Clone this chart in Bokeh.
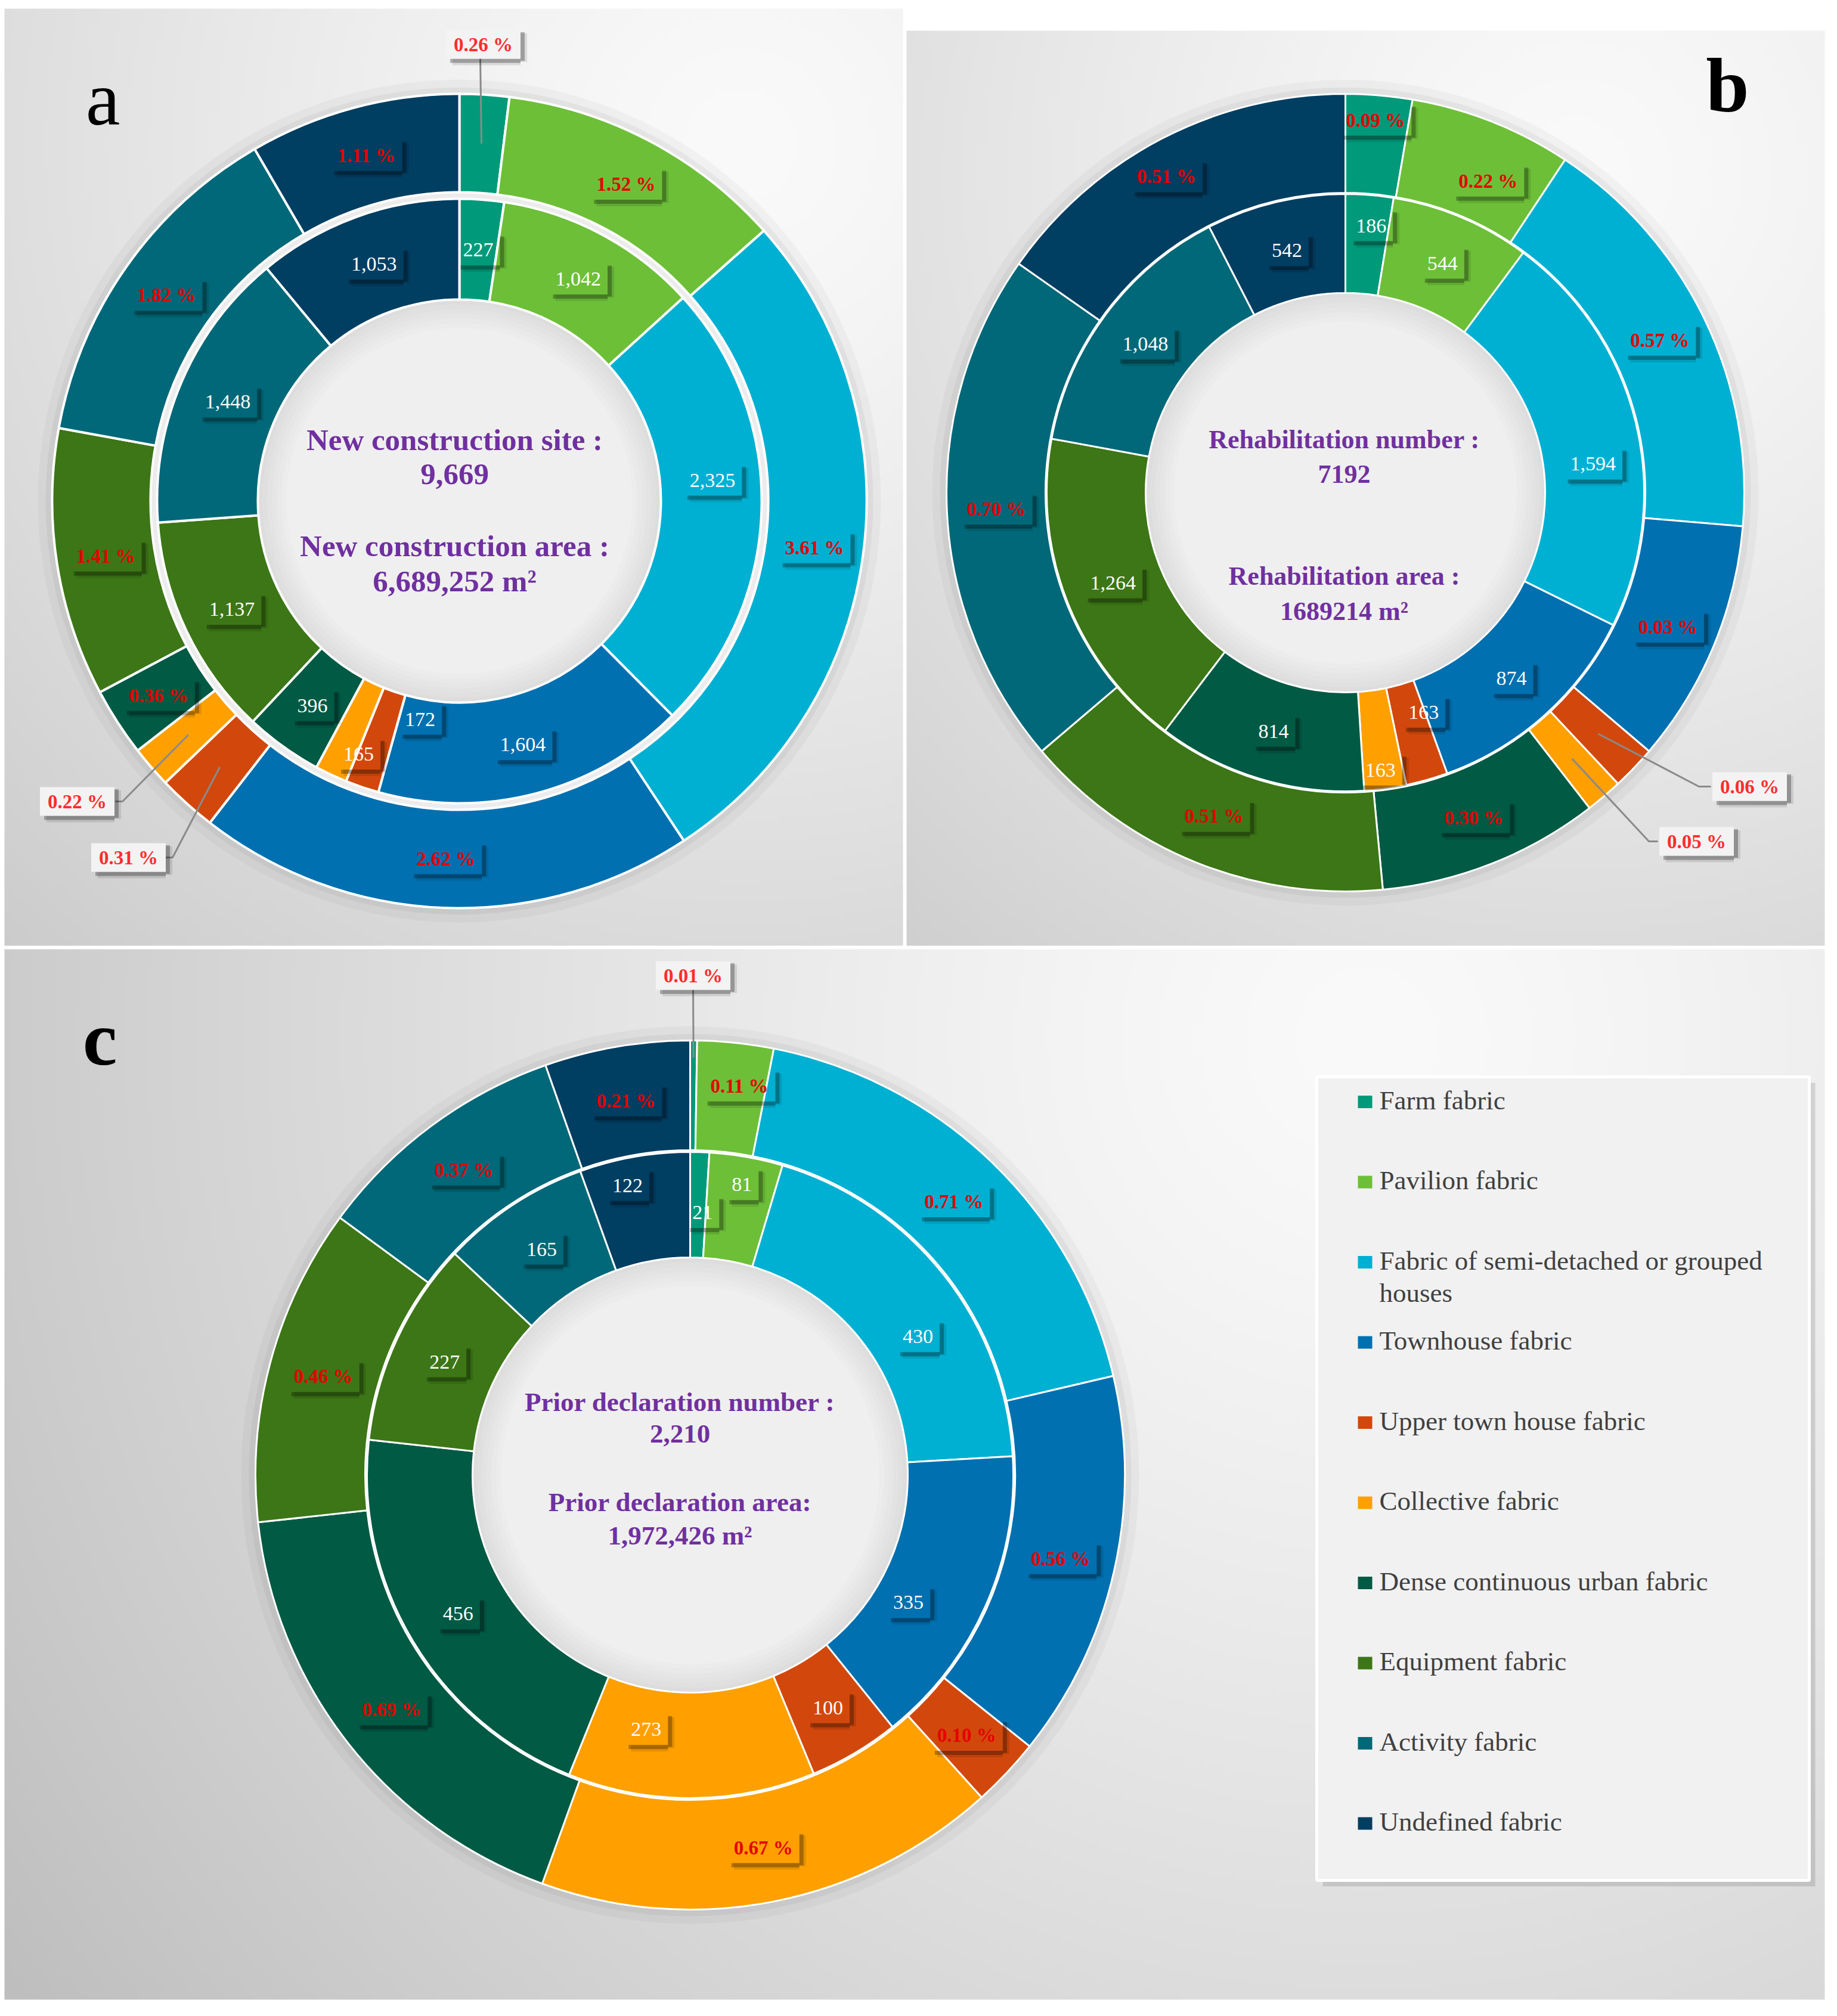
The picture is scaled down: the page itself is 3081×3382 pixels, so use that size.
import math
import numpy as np
from bokeh.plotting import figure
from bokeh.models import Range1d, ColumnDataSource
from bokeh.embed import file_html
from bokeh.resources import INLINE
from bokeh.core.properties import value

# ---------------- data ----------------
categories = ["Farm fabric", "Pavilion fabric", "Fabric of semi-detached or grouped houses",
              "Townhouse fabric", "Upper town house fabric", "Collective fabric",
              "Dense continuous urban fabric", "Equipment fabric", "Activity fabric",
              "Undefined fabric"]
colors = ["#009a7a", "#6dbf38", "#00b0d2", "#0070b0", "#d2480c",
          "#ffa000", "#005a44", "#3c7616", "#006878", "#003e62"]

new_construction_counts = [227, 1042, 2325, 1604, 172, 165, 396, 1137, 1448, 1053]
new_construction_area_pct = [0.26, 1.52, 3.61, 2.62, 0.31, 0.22, 0.36, 1.41, 1.82, 1.11]
new_construction_area_text = ["0.26 %", "1.52 %", "3.61 %", "2.62 %", "0.31 %",
                              "0.22 %", "0.36 %", "1.41 %", "1.82 %", "1.11 %"]

rehabilitation_counts = [186, 544, 1594, 874, 163, 163, 814, 1264, 1048, 542]
rehabilitation_area_pct = [0.09, 0.22, 0.57, 0.33, 0.06, 0.05, 0.30, 0.51, 0.70, 0.51]
rehabilitation_area_text = ["0.09 %", "0.22 %", "0.57 %", "0.03 %", "0.06 %",
                            "0.05 %", "0.30 %", "0.51 %", "0.70 %", "0.51 %"]

prior_declaration_counts = [21, 81, 430, 335, 100, 273, 456, 227, 165, 122]
prior_declaration_area_pct = [0.01, 0.11, 0.71, 0.56, 0.10, 0.67, 0.69, 0.46, 0.37, 0.21]
prior_declaration_area_text = ["0.01 %", "0.11 %", "0.71 %", "0.56 %", "0.10 %",
                               "0.67 %", "0.69 %", "0.46 %", "0.37 %", "0.21 %"]

center_text_a = ["New construction site :", "9,669", "New construction area :", "6,689,252 m\u00b2"]
center_text_b = ["Rehabilitation number :", "7192", "Rehabilitation area :", "1689214 m\u00b2"]
center_text_c = ["Prior declaration number :", "2,210", "Prior declaration area:", "1,972,426 m\u00b2"]
panel_letters = ["a", "b", "c"]

# ---------------- page geometry (image pixel coords) ----------------
W, H = 3064, 3364
FONT = value("Liberation Serif")


def X(xi):
    return xi - 8


def Y(yi):
    return H + 8 - yi


p = figure(width=W, height=H, x_range=Range1d(0, W), y_range=Range1d(0, H),
           output_backend="svg", toolbar_location=None, min_border=0)
p.axis.visible = False
p.grid.visible = False
p.outline_line_color = None
p.background_fill_color = "white"
p.border_fill_color = "white"


def panel_bg(x0, y0, x1, y1, lx, ly, norm, k):
    step = 8
    nx = int((x1 - x0) / step)
    ny = int((y1 - y0) / step)
    xs = x0 + (np.arange(nx) + 0.5) * (x1 - x0) / nx
    ys = y1 - (np.arange(ny) + 0.5) * (y1 - y0) / ny
    XX, YY = np.meshgrid(xs, ys)
    d = np.hypot(XX - lx, YY - ly) / norm
    v = np.clip(250 - k * d ** 1.3, 150, 252).astype(np.uint32)
    img = (np.uint32(255) << 24) | (v << 16) | (v << 8) | v
    p.image_rgba(image=[img], x=X(x0), y=Y(y1), dw=x1 - x0, dh=y1 - y0)


panel_bg(15, 22, 1522, 1594, 1250, 250, 1500, 36)
panel_bg(1528, 59, 3068, 1594, 2650, 300, 1500, 36)
panel_bg(15, 1600, 3068, 3362, 2300, 1750, 2200, 44)


def tw(s, F, bold=False):
    w = 0.0
    for ch in s:
        if ch.isdigit():
            w += 0.5
        elif ch in ",. ":
            w += 0.25
        elif ch == "%":
            w += 1.0 if bold else 0.833
        else:
            w += 0.5
    return w * F


def shadow_boxes(xs, ys, ws, hs, fills=None):
    """Drop shadow of a label box (right and bottom bands); optional box fill."""
    for d, alpha in [(11, 0.10), (7, 0.28)]:
        rx, ry, rw, rh = [], [], [], []
        for x, y, w, h in zip(xs, ys, ws, hs):
            rx.append(x + w / 2 + d / 2)
            ry.append(y - d / 2)
            rw.append(d)
            rh.append(h)
            rx.append(x + d / 2)
            ry.append(y - h / 2 - d / 2)
            rw.append(w - d)
            rh.append(d)
        p.rect(x=rx, y=ry, width=rw, height=rh, fill_color="black", fill_alpha=alpha,
               line_color=None)
    if fills is not None:
        p.rect(x=xs, y=ys, width=ws, height=hs, fill_color=fills, line_color=None)


def ring_angles(vals):
    tot = float(sum(vals))
    cum = np.concatenate([[0.0], np.cumsum(vals)]) / tot * 360.0
    return cum[:-1], cum[1:]


def polar(cx, cy, ang, r):
    a = math.radians(ang)
    return cx + r * math.sin(a), cy - r * math.cos(a)


def donut(key, cx, cy, radii, counts, area, area_text, lw, gap, overrides, callouts):
    r_hole, r_in_out, r_out_in, r_out = radii
    p.annulus(x=[X(cx)], y=[Y(cy)], inner_radius=r_hole, outer_radius=r_out + 24,
              fill_color="black", fill_alpha=0.03, line_color=None)
    p.annulus(x=[X(cx)], y=[Y(cy)], inner_radius=r_hole, outer_radius=r_out + 11,
              fill_color="black", fill_alpha=0.045, line_color=None)
    p.circle(x=[X(cx)], y=[Y(cy)], radius=r_hole, fill_color="#efefef", line_color=None)
    for k in range(6):
        p.annulus(x=[X(cx)], y=[Y(cy)], inner_radius=r_hole - 48 + k * 8, outer_radius=r_hole,
                  fill_color="black", fill_alpha=0.012, line_color=None)
    if gap:
        p.annulus(x=[X(cx)], y=[Y(cy)], inner_radius=r_in_out, outer_radius=r_out_in,
                  fill_color="#ececec", line_color=None)
    rings = [("in", counts, r_hole, r_in_out,
              ["{:,}".format(v) for v in counts], "white", 34, "normal"),
             ("out", area, r_out_in, r_out, area_text, "#e60000", 33, "bold")]
    for ring, vals, r0, r1, texts, tcol, fs, fstyle in rings:
        st, en = ring_angles(vals)
        src = ColumnDataSource(dict(
            x=[X(cx)] * len(vals), y=[Y(cy)] * len(vals),
            sa=[math.radians(90 - e) for e in en], ea=[math.radians(90 - s) for s in st],
            color=colors, name=categories))
        p.annular_wedge(x="x", y="y", inner_radius=r0, outer_radius=r1, start_angle="sa",
                        end_angle="ea", fill_color="color", line_color="white",
                        line_width=lw, source=src)
        lx, ly, lt, lwid, lh = [], [], [], [], []
        for i, t in enumerate(texts):
            mid = (st[i] + en[i]) / 2
            if (key, ring, i) in callouts:
                c = callouts[(key, ring, i)]
                ax, ay = polar(cx, cy, mid, c.get("r", (r0 + r1) / 2))
                pts = [(ax, ay)] + c["path"]
                p.line(x=[X(q[0]) for q in pts], y=[Y(q[1]) for q in pts],
                       line_color="#8a8a8a", line_width=3)
                bx, by = c["box"]
                bw = tw(t, fs, True) + 26
                shadow_boxes([X(bx)], [Y(by)], [bw], [48], ["#f3f3f3"])
                p.text(x=[X(bx)], y=[Y(by)], text=[t], text_font=FONT, text_font_size="33px",
                       text_font_style="bold", text_color="#ff2d2d", text_align="center",
                       text_baseline="middle")
                continue
            ang, rr = overrides.get((key, ring, i), (mid, (r0 + r1) / 2))
            px, py = polar(cx, cy, ang, rr)
            lx.append(X(px))
            ly.append(Y(py))
            lt.append(t)
            lwid.append(tw(t, fs, fstyle == "bold") + 22)
            lh.append(52)
        shadow_boxes(lx, ly, lwid, lh)
        p.text(x=lx, y=ly, text=lt, text_font=FONT, text_font_size="%dpx" % fs,
               text_font_style=fstyle, text_color=tcol, text_align="center",
               text_baseline="middle")


overrides = {
    ("a", "in", 2): (85.3, 426), ("a", "in", 4): (190.2, 372), ("a", "in", 5): (201.7, 457),
    ("b", "in", 0): (5.5, 450), ("b", "in", 2): (83.4, 418), ("b", "in", 4): (160.4, 391),
    ("b", "in", 5): (172.8, 469), ("b", "out", 0): (4.6, 627), ("b", "out", 1): (24.6, 575),
    ("b", "out", 9): (330.5, 609),
    ("c", "in", 0): (2.7, 441), ("c", "in", 1): (10.1, 495), ("c", "in", 2): (58.7, 447),
    ("c", "in", 3): (120.3, 424), ("c", "in", 5): (189.8, 433), ("c", "in", 9): (347.8, 497),
    ("c", "out", 1): (7.2, 658),
}
callouts = {
    ("a", "out", 0): dict(box=(818, 82), path=[(813, 104)]),
    ("a", "out", 4): dict(box=(223, 1446), path=[(297, 1446), (285, 1446)]),
    ("a", "out", 5): dict(box=(137, 1352), path=[(213, 1352), (201, 1352)]),
    ("b", "out", 4): dict(box=(2942, 1327), path=[(2857, 1327), (2877, 1327)]),
    ("b", "out", 5): dict(box=(2853, 1419), path=[(2773, 1419), (2788, 1419)]),
    ("c", "out", 0): dict(box=(1170, 1644), path=[(1170, 1668)], r=700),
}

donut("a", 778, 848, (338, 507, 518, 683), new_construction_counts,
      new_construction_area_pct, new_construction_area_text, 4, True, overrides, callouts)
donut("b", 2264, 834, (335, 501, 503, 669), rehabilitation_counts,
      rehabilitation_area_pct, rehabilitation_area_text, 3, False, overrides, callouts)
donut("c", 1165, 2482, (365, 542, 545, 729), prior_declaration_counts,
      prior_declaration_area_pct, prior_declaration_area_text, 3, False, overrides, callouts)

# ---------------- centre texts ----------------
for lines, cx, ys, fs in [(center_text_a, 770, [745, 803, 923, 982], 51),
                          (center_text_b, 2262, [745, 803, 974, 1033], 44),
                          (center_text_c, 1148, [2359, 2413, 2527, 2583], 45)]:
    p.text(x=[X(cx)] * 4, y=[Y(v) for v in ys], text=lines, text_font=FONT,
           text_font_size="%dpx" % fs, text_font_style="bold", text_color="#7030a0",
           text_align="center", text_baseline="middle")

# ---------------- panel letters ----------------
for t, x, y, st in zip(panel_letters, [180, 2905, 175], [172, 150, 1749], ["normal", "bold", "bold"]):
    p.text(x=[X(x)], y=[Y(y)], text=[t], text_font=FONT, text_font_size="130px",
           text_font_style=st, text_color="black", text_align="center",
           text_baseline="middle")

# ---------------- legend ----------------
lx0, ly0, lx1, ly1 = 2216, 1814, 3042, 3162
p.quad(left=[X(lx0) + 10], right=[X(lx1) + 10], top=[Y(ly0) - 10], bottom=[Y(ly1) - 10],
       fill_color="black", fill_alpha=0.12, line_color=None)
p.quad(left=[X(lx0)], right=[X(lx1)], top=[Y(ly0)], bottom=[Y(ly1)],
       fill_color="#f1f1f1", line_color="white", line_width=5)
row0, step = 1853, 134.5
mx, my, tx, ty, tt = [], [], [], [], []
for i, name in enumerate(categories):
    yy = row0 + i * step
    mx.append(X(2297))
    my.append(Y(yy + 3))
    lines = [name]
    if len(name) > 35:
        cut = name.rfind(" ", 0, 35)
        lines = [name[:cut], name[cut + 1:]]
    for j, ln in enumerate(lines):
        tx.append(X(2321))
        ty.append(Y(yy + j * 54))
        tt.append(ln)
p.rect(x=mx, y=my, width=24, height=21, fill_color=colors, line_color=None)
p.text(x=tx, y=ty, text=tt, text_font=FONT, text_font_size="45px", text_color="#404040",
       text_align="left", text_baseline="middle")

open("out.html", "w").write(file_html(p, INLINE))
